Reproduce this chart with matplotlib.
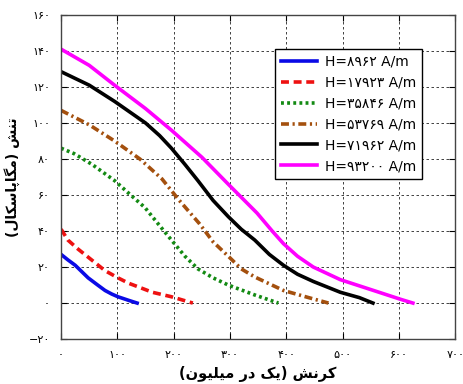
import matplotlib
matplotlib.use("Agg")
import matplotlib.pyplot as plt

# strain (microstrain) / stress (MPa)
x_blue = [0, 12, 25, 48, 65, 78, 90, 101, 120, 135]
y_blue = [27, 24, 21, 14, 10, 7, 5, 3.5, 1.5, 0]
x_red = [0, 12, 30, 48, 78, 101, 120, 137, 162, 196, 234]
y_red = [41, 35, 30, 25.5, 18, 14, 11, 9, 6, 3.5, 0]
x_green = [0, 23, 55, 95, 120, 149, 175, 196, 220, 243, 270, 297, 344, 386]
y_green = [86, 83, 77, 68, 61, 53, 43, 35, 26, 19, 14, 10, 4.5, 0]
x_brown = [0, 50, 95, 140, 179, 210, 246, 270, 297, 320, 344, 395, 440, 475]
y_brown = [107, 99, 90, 80, 69, 57, 44, 34, 26, 19, 14.5, 7, 3, 0]
x_black = [0, 50, 95, 150, 175, 196, 220, 243, 270, 297, 320, 344, 370,
           395, 420, 448, 496, 530, 554]
y_black = [128.5, 121, 112, 100, 93, 86, 77, 68, 57, 48, 41, 35, 27,
           21, 16, 12, 6, 3, 0]
x_mag = [0, 50, 95, 150, 196, 250, 297, 348, 375, 395, 420, 448, 496,
         555, 604, 625]
y_mag = [141, 132, 121, 108, 96, 81, 66, 50, 40, 33, 26, 20, 13,
         7, 2, 0]

fields = [8962, 17923, 35846, 53769, 71962, 93200]
xticks = [0, 100, 200, 300, 400, 500, 600, 700]
yticks = [-20, 0, 20, 40, 60, 80, 100, 120, 140, 160]

FA_DIGITS = str.maketrans("0123456789-", "۰۱۲۳۴۵۶۷۸۹−")


def fa(n):
    return str(n).translate(FA_DIGITS)


# minimal arabic shaping: (isolated, final, initial, medial)
FORMS = {
    "ک": ("\ufb8e", "\ufb8f", "\ufb90", "\ufb91"),
    "گ": ("\ufb92", "\ufb93", "\ufb94", "\ufb95"),
    "پ": ("\ufb56", "\ufb57", "\ufb58", "\ufb59"),
    "ی": ("\ufbfc", "\ufbfd", "\ufbfe", "\ufbff"),
    "ن": ("\ufee5", "\ufee6", "\ufee7", "\ufee8"),
    "ش": ("\ufeb5", "\ufeb6", "\ufeb7", "\ufeb8"),
    "س": ("\ufeb1", "\ufeb2", "\ufeb3", "\ufeb4"),
    "م": ("\ufee1", "\ufee2", "\ufee3", "\ufee4"),
    "ل": ("\ufedd", "\ufede", "\ufedf", "\ufee0"),
    "ت": ("\ufe95", "\ufe96", "\ufe97", "\ufe98"),
    "ر": ("\ufead", "\ufeae", None, None),
    "د": ("\ufea9", "\ufeaa", None, None),
    "و": ("\ufeed", "\ufeee", None, None),
    "ا": ("\ufe8d", "\ufe8e", None, None),
}


def shape(text):
    out = []
    for i, ch in enumerate(text):
        if ch not in FORMS:
            out.append(ch)
            continue
        prev = text[i - 1] if i > 0 else ""
        nxt = text[i + 1] if i + 1 < len(text) else ""
        f = FORMS[ch]
        join_prev = prev in FORMS and FORMS[prev][2] is not None
        join_next = nxt in FORMS and f[2] is not None
        if join_prev and join_next:
            out.append(f[3])
        elif join_prev:
            out.append(f[1])
        elif join_next:
            out.append(f[2])
        else:
            out.append(f[0])
    vis = "".join(reversed(out))
    return vis.translate(str.maketrans("()", ")("))


fig = plt.figure(figsize=(4.63, 3.84), dpi=100)
ax = fig.add_axes([0.132, 0.117, 0.851, 0.844])

lw = 2.6
ax.plot(x_blue, y_blue, color="#0a0ae6", lw=lw)
ax.plot(x_red, y_red, color="#ee1111", lw=lw, ls=(0, (2.2, 1.3)))
ax.plot(x_green, y_green, color="#138a13", lw=lw, ls=(0, (0.8, 0.9)))
ax.plot(x_brown, y_brown, color="#a4500e", lw=lw, ls=(0, (2.2, 1.0, 0.6, 1.0)))
ax.plot(x_black, y_black, color="black", lw=lw)
ax.plot(x_mag, y_mag, color="#ff00ff", lw=lw)

labels = ["H=" + fa(h) + " A/m" for h in fields]
leg = ax.legend(ax.get_lines(), labels, loc="upper left",
                bbox_to_anchor=(0.543, 0.895), fontsize=10,
                handlelength=2.6, labelspacing=0.5, borderpad=0.4,
                fancybox=False, framealpha=1, edgecolor="black",
                handletextpad=0.6, borderaxespad=0)
leg.get_frame().set_linewidth(1.0)

ax.set_xlim(0, 700)
ax.set_ylim(-20, 160)
ax.set_xticks(xticks)
ax.set_yticks(yticks)
ax.set_xticklabels([fa(t) for t in xticks], fontsize=8)
ax.set_yticklabels([fa(t) for t in yticks], fontsize=8)
ax.tick_params(direction="in", top=True, right=True, length=4, pad=8)

ax.grid(True, color="#222222", ls=(0, (3, 3)), lw=0.6)
ax.set_axisbelow(True)
for s in ax.spines.values():
    s.set_color("#444444")
    s.set_linewidth(1.0)

ax.set_xlabel(shape("کرنش (یک در میلیون)"), fontsize=10.5, fontweight="bold")
ax.set_ylabel(shape("تنش (مگاپاسکال)"), fontsize=10, fontweight="bold",
              labelpad=6)

fig.savefig("out.png", dpi=100)
